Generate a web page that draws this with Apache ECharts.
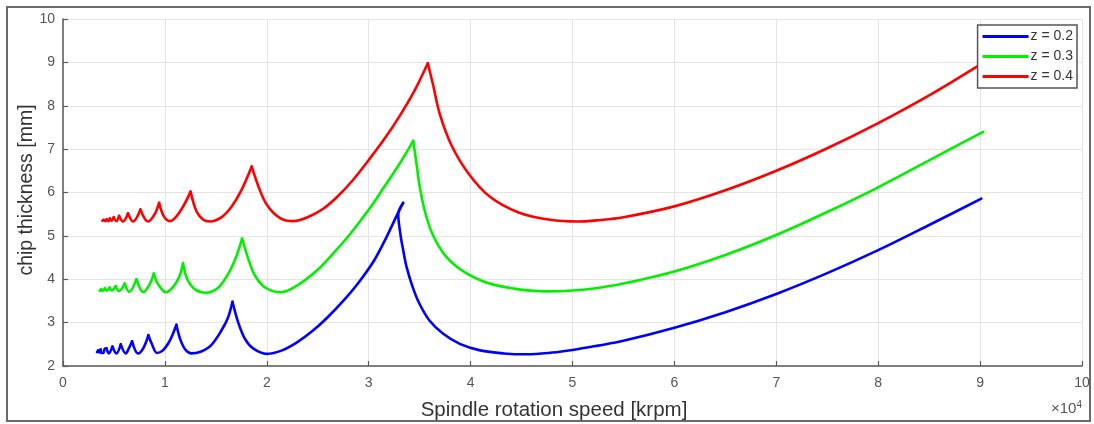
<!DOCTYPE html>
<html><head><meta charset="utf-8">
<script src="https://cdn.jsdelivr.net/npm/echarts@6/dist/echarts.min.js"></script>
<style>html,body{margin:0;padding:0;background:#fff}#c{width:1094px;height:424px}</style>
</head><body><div id="c"></div>
<script>
// x in units of 10^4 rpm, y chip thickness [mm]
var seriesNames = ['z = 0.2', 'z = 0.3', 'z = 0.4'];
var xTickLabels = ['0','1','2','3','4','5','6','7','8','9','10'];
var yTickLabels = ['2','3','4','5','6','7','8','9','10'];

var blueData = [
 [0.334,2.32],[0.345,2.36],[0.355,2.31],[0.37,2.38],[0.377,2.30],[0.395,2.30],[0.41,2.40],[0.426,2.41],[0.449,2.29],
 [0.485,2.45],[0.524,2.29],[0.567,2.50],[0.616,2.29],[0.645,2.40],[0.678,2.57],[0.737,2.29],[0.79,2.42],[0.838,2.71],
 [0.87,2.52],[0.923,2.30],[0.98,2.36],[1.04,2.55],[1.08,2.75],[1.113,2.95],[1.15,2.62],[1.20,2.38],[1.26,2.29],
 [1.35,2.33],[1.45,2.47],[1.55,2.80],[1.62,3.12],[1.663,3.48],[1.72,3.0],[1.787,2.62],[1.869,2.40],[2.0,2.28],
 [2.15,2.36],[2.3,2.55],[2.45,2.81],[2.6,3.13],[2.75,3.50],[2.9,3.92],[3.05,4.42],[3.17,4.95],[3.288,5.53],[3.338,5.76],
 [3.29,5.50],[3.315,4.98],[3.338,4.68],[3.371,4.29],[3.43,3.83],[3.497,3.44],[3.596,3.05],[3.728,2.75],[3.894,2.51],
 [4.093,2.36],[4.325,2.29],[4.55,2.27],[4.8,2.31],[5.0,2.37],[5.25,2.47],[5.5,2.58],[6.0,2.88],[6.5,3.24],
 [7.0,3.66],[7.5,4.14],[8.0,4.67],[8.5,5.25],[9.012,5.86]
];
var greenData = [
 [0.36,3.73],[0.375,3.77],[0.39,3.73],[0.41,3.79],[0.43,3.74],[0.458,3.81],[0.48,3.74],[0.517,3.84],[0.55,3.73],
 [0.606,3.90],[0.65,3.71],[0.721,4.0],[0.79,3.70],[0.85,3.88],[0.891,4.13],[0.93,3.90],[1.01,3.70],[1.08,3.82],
 [1.14,4.05],[1.178,4.37],[1.22,4.0],[1.30,3.76],[1.40,3.69],[1.52,3.80],[1.62,4.12],[1.70,4.52],[1.758,4.94],
 [1.82,4.46],[1.885,4.08],[1.984,3.81],[2.14,3.70],[2.30,3.86],[2.5,4.22],[2.65,4.59],[2.82,5.05],[3.0,5.60],
 [3.15,6.12],[3.30,6.65],[3.437,7.19],[3.47,6.65],[3.50,6.15],[3.55,5.58],[3.63,5.02],[3.76,4.52],[3.93,4.18],
 [4.16,3.92],[4.49,3.76],[4.75,3.72],[5.0,3.74],[5.25,3.80],[5.5,3.90],[6.0,4.18],[6.5,4.56],[7.0,5.02],
 [7.5,5.55],[8.0,6.12],[8.5,6.74],[9.03,7.40]
];
var redData = [
 [0.387,5.35],[0.40,5.37],[0.415,5.34],[0.43,5.38],[0.445,5.34],[0.459,5.40],[0.475,5.35],[0.498,5.43],[0.524,5.34],
 [0.55,5.46],[0.589,5.33],[0.638,5.52],[0.687,5.33],[0.76,5.61],[0.835,5.33],[0.90,5.50],[0.943,5.76],[0.99,5.45],
 [1.048,5.34],[1.148,5.56],[1.252,6.02],[1.311,5.56],[1.377,5.37],[1.44,5.33],[1.55,5.42],[1.65,5.66],[1.75,6.05],
 [1.852,6.60],[1.918,6.14],[2.0,5.72],[2.131,5.41],[2.26,5.34],[2.4,5.43],[2.55,5.62],[2.7,5.92],[2.85,6.30],
 [3.0,6.75],[3.15,7.22],[3.3,7.75],[3.45,8.35],[3.58,8.98],[3.63,8.50],[3.695,7.83],[3.81,7.10],[3.975,6.45],
 [4.19,5.90],[4.47,5.54],[4.78,5.37],[5.05,5.33],[5.25,5.36],[5.5,5.43],[6.0,5.68],[6.5,6.05],[7.0,6.50],[7.5,7.02],
 [8.0,7.60],[8.5,8.24],[9.0,8.95]
];

var chart = echarts.init(document.getElementById('c'), null, {renderer:'canvas'});
var font = 'Liberation Sans, Arial, sans-serif';

// split a curve at its cusps (local maxima) so each piece is smoothed separately
function pieces(data){
  var out = [], cur = [data[0]];
  for (var i = 1; i < data.length; i++){
    cur.push(data[i]);
    if (i < data.length - 1 && data[i][1] > data[i-1][1] && data[i][1] > data[i+1][1]){
      out.push(cur); cur = [data[i]];
    }
  }
  out.push(cur);
  return out;
}
function mk(name, data, color){
  return pieces(data).map(function(p){
    return {name:name, type:'line', data:p, showSymbol:false, symbol:'none', smooth:0.35,
      lineStyle:{color:color, width:2.6, cap:'round', join:'round'}, itemStyle:{color:color}, z:3};
  });
}
var series = [].concat(
  mk(seriesNames[0], blueData, '#0000ff'),
  mk(seriesNames[1], greenData, '#00f000'),
  mk(seriesNames[2], redData, '#ff0000'));

chart.setOption({
  animation:false,
  grid:{left:63, right:12, top:19, bottom:58, containLabel:false},
  xAxis:{type:'value', min:0, max:10, interval:1,
    axisLine:{show:true, lineStyle:{color:'#5a5a5a', width:1.5}},
    axisTick:{show:true, inside:true, length:5, lineStyle:{color:'#5a5a5a', width:1.2}},
    axisLabel:{color:'#555', fontSize:14, fontFamily:font, margin:10,
      formatter:function(v){return xTickLabels[Math.round(v)];}},
    splitLine:{show:true, lineStyle:{color:'#e4e4e4', width:1}}
  },
  yAxis:{type:'value', min:2, max:10, interval:1,
    axisLine:{show:true, lineStyle:{color:'#5a5a5a', width:1.5}},
    axisTick:{show:true, inside:true, length:5, lineStyle:{color:'#5a5a5a', width:1.2}},
    axisLabel:{color:'#555', fontSize:14, fontFamily:font, margin:8,
      formatter:function(v){return yTickLabels[Math.round(v)-2];}},
    splitLine:{show:true, lineStyle:{color:'#e4e4e4', width:1}}
  },
  legend:{orient:'vertical', right:17, top:25, data:seriesNames,
    icon:'rect', itemWidth:46, itemHeight:3, itemGap:5,
    backgroundColor:'#fff', borderColor:'#555', borderWidth:1.5, padding:[4,4,4,5],
    textStyle:{color:'#333', fontSize:14, fontFamily:font, lineHeight:15, padding:[0,0,0,-3]}},
  series:series,
  graphic:[
    {type:'rect', shape:{x:7, y:7, width:1083, height:414}, style:{fill:'none', stroke:'#6a6a6a', lineWidth:2}, silent:true, z:-1},
    {type:'text', x:554, y:410, style:{text:'Spindle rotation speed [krpm]', fill:'#333', font:'20.5px '+font, textAlign:'center', textVerticalAlign:'middle'}},
    {type:'text', x:27, y:190, rotation:Math.PI/2, style:{text:'chip thickness [mm]', fill:'#333', font:'19.5px '+font, textAlign:'center', textVerticalAlign:'middle'}},
    {type:'text', x:1082, y:409, style:{text:'×10{s|4}', fill:'#555', font:'15px '+font, textAlign:'right', textVerticalAlign:'middle', rich:{s:{fontSize:10, verticalAlign:'top', fill:'#555', padding:[0,0,8,0]}}}}
  ]
});
</script></body></html>
